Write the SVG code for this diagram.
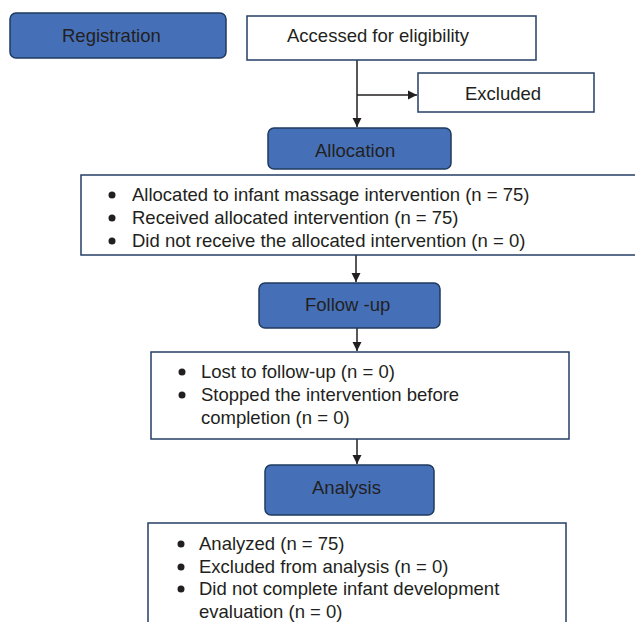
<svg xmlns="http://www.w3.org/2000/svg" width="635" height="622" viewBox="0 0 635 622">
<defs>
<style>
.stage{fill:#4570b8;stroke:#1f3a5f;stroke-width:1.5}
.box{fill:#ffffff;stroke:#243f66;stroke-width:1.5}
.t{font-family:"Liberation Sans",Arial,sans-serif;font-size:18.5px;fill:#231f20}
.c{stroke:#231f20;stroke-width:1.5;fill:none}
.dot{fill:#231f20}
</style>
<marker id="ah" markerWidth="10" markerHeight="10" refX="9" refY="5" orient="auto" markerUnits="userSpaceOnUse">
<path d="M0,0.5 L9,5 L0,9.5 Z" fill="#231f20"/>
</marker>
</defs>
<rect width="635" height="622" fill="#ffffff"/>
<g id="connectors">
<path class="c" d="M357,60 V127" marker-end="url(#ah)"/>
<path class="c" d="M357,95 H417" marker-end="url(#ah)"/>
<path class="c" d="M356,255 V282" marker-end="url(#ah)"/>
<path class="c" d="M357,328 V351" marker-end="url(#ah)"/>
<path class="c" d="M357,439 V464" marker-end="url(#ah)"/>
</g>
<g id="registration">
<rect class="stage" x="10" y="13" width="216" height="45" rx="6"/>
<text class="t" x="62" y="42">Registration</text>
</g>
<g id="assessed">
<rect class="box" x="247" y="16" width="289" height="44"/>
<text class="t" x="287" y="42">Accessed for eligibility</text>
</g>
<g id="excluded">
<rect class="box" x="418" y="73" width="176" height="39"/>
<text class="t" x="465" y="100">Excluded</text>
</g>
<g id="allocation">
<rect class="stage" x="268" y="128" width="183" height="41" rx="6"/>
<text class="t" x="315" y="157">Allocation</text>
</g>
<g id="allocation-details">
<rect class="box" x="81" y="175" width="560" height="80"/>
<circle class="dot" cx="112" cy="195" r="3.5"/>
<circle class="dot" cx="112" cy="218" r="3.5"/>
<circle class="dot" cx="112" cy="241" r="3.5"/>
<text class="t" x="132" y="201">Allocated to infant massage intervention (n = 75)</text>
<text class="t" x="132" y="224">Received allocated intervention (n = 75)</text>
<text class="t" x="132" y="247">Did not receive the allocated intervention (n = 0)</text>
</g>
<g id="follow-up">
<rect class="stage" x="259" y="283" width="181" height="45" rx="6"/>
<text class="t" x="305" y="311">Follow -up</text>
</g>
<g id="follow-up-details">
<rect class="box" x="151" y="352" width="418" height="87"/>
<circle class="dot" cx="182" cy="372" r="3.5"/>
<circle class="dot" cx="182" cy="395" r="3.5"/>
<text class="t" x="201" y="378">Lost to follow-up (n = 0)</text>
<text class="t" x="201" y="401">Stopped the intervention before</text>
<text class="t" x="201" y="424">completion (n = 0)</text>
</g>
<g id="analysis">
<rect class="stage" x="265" y="465" width="169" height="50" rx="6"/>
<text class="t" x="312" y="494">Analysis</text>
</g>
<g id="analysis-details">
<rect class="box" x="148" y="523" width="418" height="110"/>
<circle class="dot" cx="181" cy="544" r="3.5"/>
<circle class="dot" cx="181" cy="567" r="3.5"/>
<circle class="dot" cx="181" cy="589" r="3.5"/>
<text class="t" x="199" y="550">Analyzed (n = 75)</text>
<text class="t" x="199" y="573">Excluded from analysis (n = 0)</text>
<text class="t" x="199" y="595">Did not complete infant development</text>
<text class="t" x="199" y="618">evaluation (n = 0)</text>
</g>
</svg>
